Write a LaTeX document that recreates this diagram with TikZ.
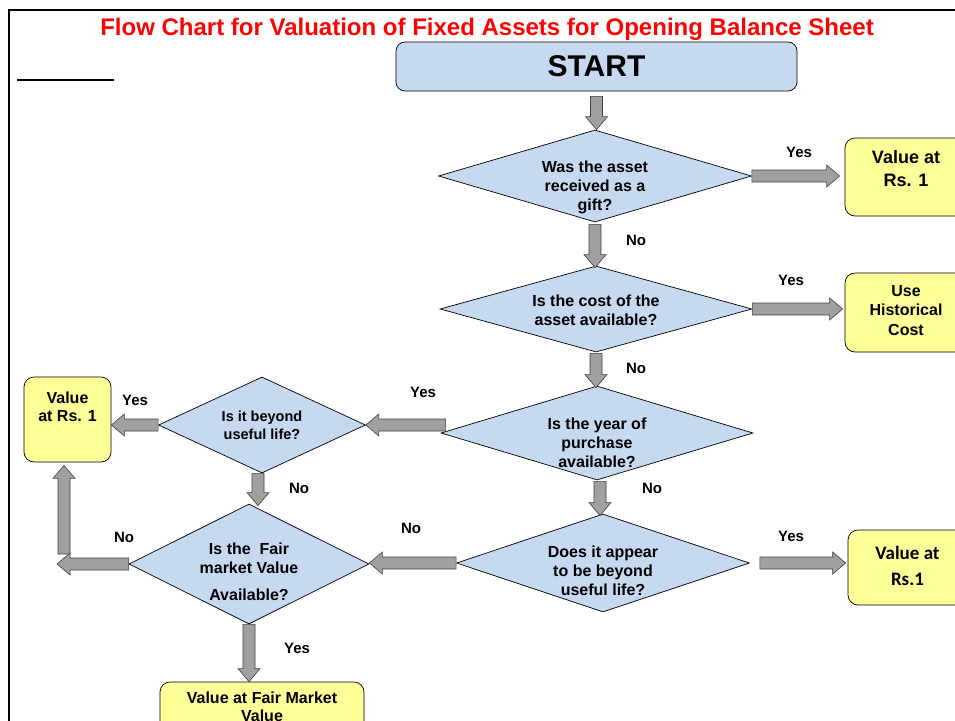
\documentclass[tikz,border=0pt]{standalone}
\usepackage{fontspec}
\setmainfont{Liberation Sans}
\newfontfamily\calibfont{Carlito}
\usetikzlibrary{shapes.geometric, calc}

\definecolor{decblue}{HTML}{C6D9F1}
\definecolor{endyellow}{HTML}{FFFF99}
\definecolor{arrgray}{HTML}{A0A0A0}

\tikzset{
  decision/.style={draw, diamond, fill=decblue, inner sep=0pt, line width=0.7pt},
  endbox/.style={draw, rectangle, rounded corners=10pt, fill=endyellow, inner sep=0pt, line width=0.7pt},
  qtext/.style={font=\bfseries\fontsize{16}{19}\selectfont, align=center},
  lbl/.style={font=\bfseries\fontsize{15}{18}\selectfont},
  barrow/.style={draw=black!75, fill=arrgray, line width=0.6pt}
}

% block arrow from #1 to #2
\newcommand{\blockarrow}[2]{%
  \path[barrow] let \p1=($(#2)-(#1)$), \n1={atan2(\y1,\x1)}, \n2={veclen(\x1,\y1)} in
    [shift={(#1)}, rotate=\n1]
    (0pt,-6pt) -- ({\n2*1pt-13pt},-6pt) -- ({\n2*1pt-13pt},-11pt) -- ({\n2*1pt},0pt)
    -- ({\n2*1pt-13pt},11pt) -- ({\n2*1pt-13pt},6pt) -- (0pt,6pt) -- cycle;}

\begin{document}
\begin{tikzpicture}[x=1pt, y=-1pt]
		\useasboundingbox (0,0) rectangle (955,720);
		\clip (0,0) rectangle (955,720);
		\draw[line width=2pt] (9,10) rectangle (1000,780);
		\draw[line width=1.5pt] (17,80) -- (114,80);
		
		\node[font=\bfseries\fontsize{24}{28}\selectfont, text=red] (title) at (487,29) {Flow Chart for Valuation of Fixed Assets for Opening Balance Sheet};
		\node[draw, rounded corners=9pt, fill=decblue, line width=0.7pt, minimum width=401pt, minimum height=49pt, font=\bfseries\fontsize{30}{34}\selectfont] (start) at (596.5,66.5) {START};
		
		% decisions
		\node[decision, minimum width=313pt, minimum height=92pt, label={[qtext, yshift=-11pt]center:{Was the asset\\received as a\\gift?}}] (gift) at (595,176) {};
		\node[decision, minimum width=312pt, minimum height=86pt, label={[qtext, yshift=-1pt]center:{Is the cost of the\\asset available?}}] (cost) at (596,309) {};
		\node[decision, minimum width=312pt, minimum height=94pt, label={[qtext, yshift=-10pt]center:{Is the year of\\purchase\\available?}}] (year) at (597,433) {};
		\node[decision, minimum width=207pt, minimum height=96pt, label={[qtext, font=\bfseries\fontsize{14.5}{18}\selectfont]center:{Is it beyond\\useful life?}}] (life) at (262,425) {};
		\node[decision, minimum width=240pt, minimum height=120pt, label={[qtext, yshift=-8pt]center:{Is the\ \ Fair\\market Value\\[8pt]Available?}}] (fair) at (249,564) {};
		\node[decision, minimum width=293pt, minimum height=98pt, label={[qtext, yshift=-8pt]center:{Does it appear\\to be beyond\\useful life?}}] (appear) at (603,563) {};
		
		% results
		\node[endbox, minimum width=122pt, minimum height=78pt, label={[qtext, font=\bfseries\fontsize{18}{23}\selectfont, yshift=8pt]center:{Value at\\Rs. 1}}] (giftval) at (906,177) {};
		\node[endbox, minimum width=122pt, minimum height=79pt, label={[qtext, font=\bfseries\fontsize{16}{19.5}\selectfont, yshift=2pt]center:{Use\\Historical\\Cost}}] (histcost) at (906,312.5) {};
		\node[endbox, minimum width=87pt, minimum height=85pt, label={[qtext, font=\bfseries\fontsize{16}{18}\selectfont, yshift=13pt]center:{Value\\at Rs. 1}}] (lifeval) at (67.5,419.5) {};
		\node[endbox, minimum width=119pt, minimum height=75pt, label={[qtext, font=\calibfont\bfseries\fontsize{19}{26}\selectfont, yshift=2pt]center:{Value at\\Rs.1}}] (appearval) at (907.5,567.5) {};
		\node[endbox, minimum width=204pt, minimum height=60pt, label={[qtext, font=\bfseries\fontsize{16}{18}\selectfont, yshift=5pt]center:{Value at Fair Market\\Value}}] (fairval) at (262,712) {};
		
		\coordinate (fairno) at (57,564);
		\coordinate (turnup) at (64,554);
		
		% connectors
		\blockarrow{$(start.south)+(0,5)$}{start.south |- gift.north}
		\blockarrow{$(gift.south)+(0,2)$}{$(gift.south |- cost.north)+(0,2)$}
		\blockarrow{gift.east}{$(gift.east -| giftval.west)+(-5,0)$}
		\blockarrow{$(cost.south)+(0,1)$}{$(cost.south |- year.north)+(0,2)$}
		\blockarrow{cost.east}{$(cost.east -| histcost.west)+(-2,0)$}
		\blockarrow{$(year.west |- life.east)+(5,0)$}{life.east}
		\blockarrow{life.west}{lifeval.east |- life.west}
		\blockarrow{$(life.south)+(-4,0)$}{$(life.south |- fair.north)+(-4,2)$}
		\blockarrow{$(year.south)+(3,1)$}{$(year.south |- appear.north)+(3,2)$}
		\blockarrow{appear.west}{fair.east |- appear.west}
		\blockarrow{$(appear.east)+(10,0)$}{$(appear.east -| appearval.west)+(-2,0)$}
		\blockarrow{fair.west}{fairno}
		\blockarrow{turnup}{$(turnup |- lifeval.south)+(0,3)$}
		\blockarrow{fair.south}{fair.south |- fairval.north}
		
		% branch labels
		\node[lbl] (giftyes) at (799,152) {Yes};
		\node[lbl] (giftno) at (636,240) {No};
		\node[lbl] (costyes) at (791,280) {Yes};
		\node[lbl] (costno) at (636,368) {No};
		\node[lbl] (yearyes) at (423,392) {Yes};
		\node[lbl] (yearno) at (652,488) {No};
		\node[lbl] (lifeyes) at (135,400) {Yes};
		\node[lbl] (lifeno) at (299,488) {No};
		\node[lbl] (appearno) at (411,528) {No};
		\node[lbl] (appearyes) at (791,536) {Yes};
		\node[lbl] (fairnolbl) at (124,537) {No};
		\node[lbl] (fairyes) at (297,648) {Yes};
\end{tikzpicture}
\end{document}
